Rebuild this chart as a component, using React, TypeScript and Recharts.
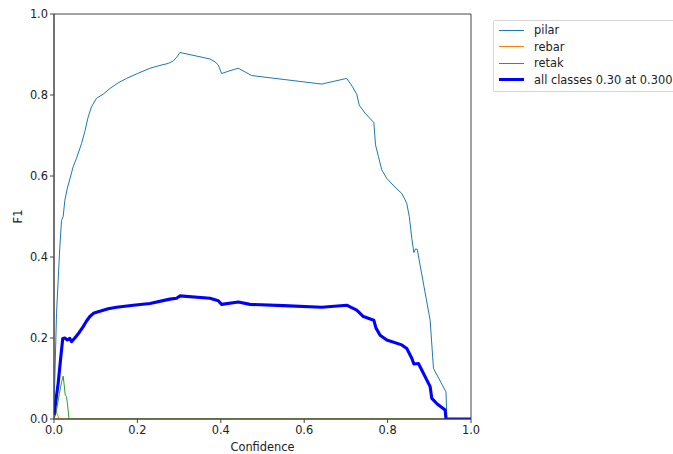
import { LineChart, Line, XAxis, YAxis, ReferenceArea } from 'recharts';

// F1-Confidence curve, values
const TICKS = [0, 0.2, 0.4, 0.6, 0.8, 1.0];

const pilarConf = [0, 0.002, 0.006, 0.01, 0.014, 0.018, 0.022, 0.026, 0.032, 0.04, 0.046, 0.054, 0.066, 0.074, 0.082, 0.09, 0.102, 0.118, 0.134, 0.154, 0.174, 0.2, 0.23, 0.254, 0.274, 0.286, 0.294, 0.302, 0.374, 0.386, 0.394, 0.402, 0.422, 0.442, 0.474, 0.642, 0.702, 0.716, 0.726, 0.732, 0.746, 0.767, 0.771, 0.778, 0.786, 0.798, 0.82, 0.834, 0.842, 0.846, 0.852, 0.858, 0.863, 0.867, 0.871, 0.902, 0.91, 0.94, 0.942, 1.0];
const pilarF1 = [0.02, 0.1, 0.26, 0.343, 0.425, 0.49, 0.5, 0.54, 0.57, 0.6, 0.623, 0.644, 0.68, 0.71, 0.746, 0.771, 0.792, 0.802, 0.816, 0.83, 0.841, 0.853, 0.866, 0.873, 0.878, 0.884, 0.893, 0.905, 0.889, 0.882, 0.874, 0.853, 0.86, 0.866, 0.848, 0.827, 0.841, 0.82, 0.802, 0.775, 0.755, 0.732, 0.677, 0.648, 0.615, 0.594, 0.57, 0.557, 0.541, 0.532, 0.5, 0.446, 0.411, 0.42, 0.419, 0.244, 0.125, 0.067, 0, 0];

const rebarConf = [0, 0.004, 0.007, 0.012, 1.0];
const rebarF1 = [0, 0.02, 0.015, 0, 0];

const retakConf = [0, 0.005, 0.013, 0.018, 0.022, 0.027, 0.03, 0.032, 0.036, 1.0];
const retakF1 = [0, 0.015, 0.063, 0.09, 0.106, 0.059, 0.055, 0.04, 0, 0];

const allConf = [0, 0.002, 0.01, 0.016, 0.021, 0.026, 0.032, 0.038, 0.042, 0.05, 0.06, 0.07, 0.078, 0.086, 0.096, 0.106, 0.13, 0.15, 0.19, 0.23, 0.278, 0.294, 0.302, 0.374, 0.394, 0.402, 0.442, 0.47, 0.55, 0.642, 0.702, 0.71, 0.726, 0.742, 0.767, 0.772, 0.782, 0.798, 0.834, 0.846, 0.858, 0.863, 0.874, 0.902, 0.906, 0.919, 0.938, 0.94, 1.0];
const allF1 = [0.01, 0.026, 0.088, 0.15, 0.199, 0.2, 0.195, 0.199, 0.191, 0.2, 0.213, 0.228, 0.242, 0.253, 0.262, 0.265, 0.272, 0.276, 0.281, 0.285, 0.296, 0.298, 0.304, 0.298, 0.292, 0.283, 0.289, 0.283, 0.28, 0.276, 0.281, 0.277, 0.269, 0.253, 0.244, 0.225, 0.207, 0.195, 0.183, 0.174, 0.15, 0.136, 0.137, 0.08, 0.051, 0.037, 0.022, 0, 0];

const SERIES = [
  { name: 'pilar', conf: pilarConf, f1: pilarF1, color: '#1f77b4', width: 1 },
  { name: 'rebar', conf: rebarConf, f1: rebarF1, color: '#ff7f0e', width: 1 },
  { name: 'retak', conf: retakConf, f1: retakF1, color: '#2ca02c', width: 1 },
  { name: 'all classes 0.30 at 0.300', conf: allConf, f1: allF1, color: '#0000ff', width: 3.1 },
];

const FONT = '"DejaVu Sans", sans-serif';
const FS = 11.4;
const tickStyle = { fill: '#222', fontSize: FS, fontFamily: FONT };
const fmt = (v: number) => v.toFixed(1);

function LegendBox() {
  return (
    <div
      style={{
        position: 'absolute', left: 493, top: 20, width: 200, height: 72,
        border: '1px solid #d5d5d5', borderRadius: 2, background: '#fff',
        fontFamily: FONT, fontSize: FS, color: '#222', boxSizing: 'border-box',
      }}
    >
      {SERIES.map((s, i) => (
        <div key={s.name} style={{ position: 'absolute', left: 5, top: 1 + i * 16.6, height: 16, display: 'flex', alignItems: 'center', whiteSpace: 'nowrap' }}>
          <span style={{ display: 'inline-block', width: 25, height: s.width, background: s.color }} />
          <span style={{ marginLeft: 10 }}>{s.name}</span>
        </div>
      ))}
    </div>
  );
}

export default function App() {
  return (
    <div style={{ position: 'fixed', left: 0, top: 0, width: 673, height: 454, overflow: 'hidden', background: '#fff' }}>
      <LineChart width={673} height={454} margin={{ top: 14, right: 202, bottom: 5, left: 14 }}>
        <XAxis
          type="number"
          dataKey="x"
          domain={[0, 1]}
          ticks={TICKS}
          tickFormatter={fmt}
          allowDataOverflow
          height={30}
          stroke="#444"
          tick={tickStyle}
          tickSize={4}
          tickMargin={3}
          label={{ value: 'Confidence', position: 'insideBottom', offset: -2, style: { fill: '#222', fontSize: FS, fontFamily: FONT } }}
        />
        <YAxis
          type="number"
          domain={[0, 1]}
          ticks={TICKS}
          tickFormatter={fmt}
          allowDataOverflow
          width={40}
          stroke="#444"
          tick={tickStyle}
          tickSize={4}
          tickMargin={2}
          label={{ value: 'F1', angle: -90, position: 'insideLeft', offset: 4, style: { fill: '#222', fontSize: FS, fontFamily: FONT, textAnchor: 'middle' } }}
        />
        <ReferenceArea x1={0} x2={1} y1={0} y2={1} fill="none" stroke="#444" strokeWidth={1} ifOverflow="visible" />
        {SERIES.map(s => (
          <Line
            key={s.name}
            data={s.conf.map((x, i) => ({ x, y: s.f1[i] }))}
            dataKey="y"
            name={s.name}
            type="linear"
            stroke={s.color}
            strokeWidth={s.width}
            dot={false}
            activeDot={false}
            strokeLinejoin="round"
            isAnimationActive={false}
          />
        ))}
      </LineChart>
      <LegendBox />
    </div>
  );
}
